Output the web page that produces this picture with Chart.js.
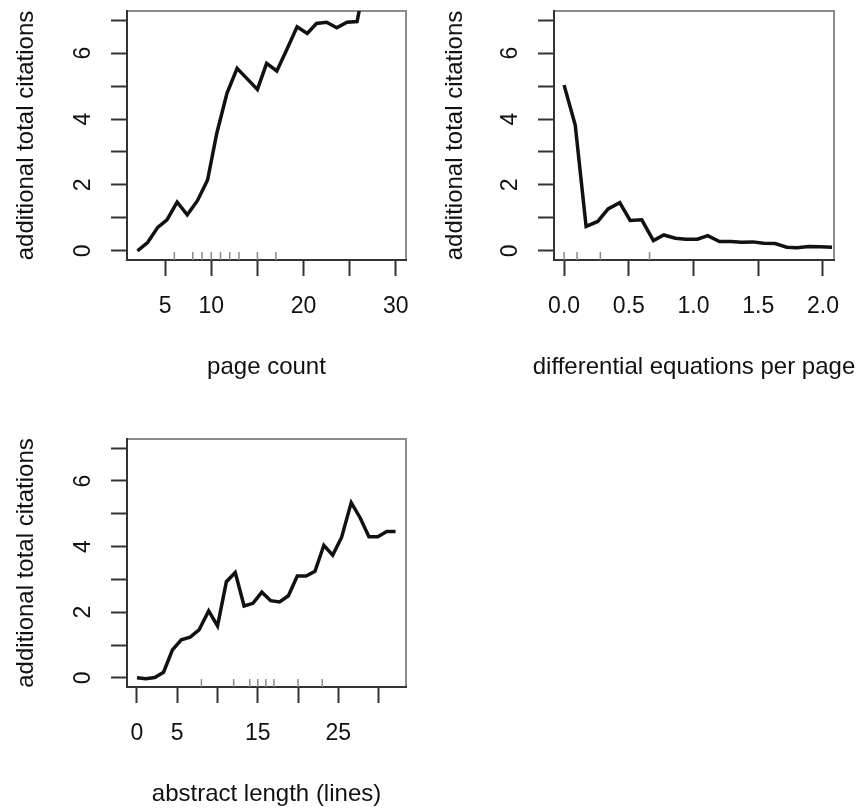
<!DOCTYPE html>
<html>
<head>
<meta charset="utf-8">
<title>additional total citations</title>
<script src="https://cdn.jsdelivr.net/npm/chart.js@4.4.1/dist/chart.umd.min.js"></script>
<style>
  html, body { margin: 0; padding: 0; background: #fff; }
  #wrap { position: relative; width: 861px; height: 809px; overflow: hidden; }
  canvas { position: absolute; }
</style>
</head>
<body>
<div id="wrap">
  <canvas id="PageCountPlot" width="430" height="400" style="left:0;top:0"></canvas>
  <canvas id="EquationsPlot" width="431" height="400" style="left:430px;top:0"></canvas>
  <canvas id="AbstractPlot" width="430" height="409" style="left:0;top:400px"></canvas>
</div>
<script>

//
//
// Shared y axis
var y_title = 'additional total citations';
var y_ticks = [0, 1, 2, 3, 4, 5, 6, 7];
var y_tick_labels = ['0', '', '2', '', '4', '', '6', ''];

//
//
// Page count
var page_count_title = 'page count';
var page_count_x = [2, 3.1, 4.2, 5.2, 6.3, 7.4, 8.5, 9.6, 10.6, 11.7, 12.8, 13.9, 15, 16, 17.1, 18.2, 19.3, 20.4, 21.4, 22.5, 23.6, 24.7, 25.8, 26.8];
var page_count_y = [0, 0.25, 0.71, 0.94, 1.48, 1.09, 1.52, 2.15, 3.57, 4.78, 5.54, 5.22, 4.9, 5.69, 5.46, 6.12, 6.8, 6.6, 6.9, 6.94, 6.77, 6.94, 6.96, 8.4];
var page_count_rug = [6, 8, 9, 10, 11, 12, 13, 15, 17];
var page_count_ticks = [5, 10, 15, 20, 25, 30];
var page_count_tick_labels = ['5', '10', '', '20', '', '30'];

//
//
// Differential equations per page
var equations_title = 'differential equations per page';
var equations_x = [0, 0.086, 0.17, 0.26, 0.34, 0.43, 0.51, 0.6, 0.69, 0.77, 0.86, 0.94, 1.03, 1.11, 1.2, 1.29, 1.37, 1.46, 1.54, 1.63, 1.72, 1.8, 1.89, 1.98, 2.07];
var equations_y = [5.03, 3.82, 0.74, 0.89, 1.27, 1.46, 0.92, 0.94, 0.31, 0.48, 0.38, 0.35, 0.35, 0.46, 0.28, 0.28, 0.26, 0.27, 0.23, 0.22, 0.11, 0.09, 0.13, 0.12, 0.11];
var equations_rug = [0, 0.1, 0.28, 0.66];
var equations_ticks = [0, 0.5, 1, 1.5, 2];
var equations_tick_labels = ['0.0', '0.5', '1.0', '1.5', '2.0'];

//
//
// Abstract length
var abstract_title = 'abstract length (lines)';
var abstract_x = [0, 1.1, 2.2, 3.3, 4.4, 5.5, 6.6, 7.7, 8.9, 10, 11.1, 12.2, 13.3, 14.4, 15.5, 16.6, 17.7, 18.8, 19.9, 21, 22.1, 23.2, 24.3, 25.4, 26.6, 27.7, 28.8, 29.9, 31, 32.1];
var abstract_y = [0, -0.03, 0.01, 0.17, 0.85, 1.16, 1.24, 1.46, 2.04, 1.58, 2.93, 3.21, 2.19, 2.27, 2.61, 2.35, 2.31, 2.5, 3.1, 3.1, 3.25, 4.04, 3.74, 4.28, 5.34, 4.88, 4.3, 4.3, 4.46, 4.46];
var abstract_rug = [8, 12, 14, 15, 16, 17, 20, 23];
var abstract_ticks = [0, 5, 10, 15, 20, 25, 30];
var abstract_tick_labels = ['0', '5', '', '15', '', '25', ''];

var Y_MIN = -0.28;
var Y_MAX = 7.28;
var FONT = "'Liberation Sans', Arial, Helvetica, sans-serif";
var INK = '#111';
var AXIS = '#333';

//
//
// Grey box round the plot region, and the two axis titles
var rFrame = {
  id: 'rFrame',
  beforeDraw: function(chart, args, opts){
    var ctx = chart.ctx;
    var a = chart.chartArea;
    ctx.save();
    ctx.strokeStyle = '#8c8c8c';
    ctx.lineWidth = 2;
    ctx.strokeRect(a.left, a.top, a.right - a.left, a.bottom - a.top);
    ctx.restore();
  },
  afterDraw: function(chart, args, opts){
    var ctx = chart.ctx;
    var a = chart.chartArea;
    ctx.save();
    ctx.font = '24px ' + FONT;
    ctx.fillStyle = INK;
    ctx.textAlign = 'center';
    ctx.textBaseline = 'middle';
    ctx.fillText(opts.xTitle, (a.left + a.right) / 2, a.bottom + 107);
    ctx.translate(opts.yTitleX, (a.top + a.bottom) / 2);
    ctx.rotate(-Math.PI / 2);
    ctx.fillText(opts.yTitle, 0, 0);
    ctx.restore();
  }
};

//
//
// Draw one panel
function drawPanel(canvas_id, p){

  var ctx = document.getElementById(canvas_id).getContext('2d');

  var points = p.x.map(function(v, i){ return {x: v, y: p.y[i]}; });
  var rug = p.rug.map(function(v){ return {x: v, y: Y_MIN}; });

  new Chart(ctx, {
    type: 'line',
    data: {
      datasets: [{
        data: points,
        borderColor: INK,
        borderWidth: 3.5,
        pointRadius: 0,
        tension: 0,
        clip: 0
      }, {
        data: rug,
        showLine: false,
        pointStyle: 'line',
        pointRotation: 90,
        pointRadius: 8,
        pointBorderColor: '#8a8a8a',
        pointBorderWidth: 1.5,
        clip: 0
      }]
    },
    options: {
      responsive: false,
      animation: false,
      events: [],
      layout: {
        padding: { top: p.top, right: p.right, bottom: 0, left: 0 }
      },
      plugins: {
        legend: { display: false },
        tooltip: { enabled: false },
        rFrame: { xTitle: p.title, yTitle: y_title, yTitleX: p.y_title_x }
      },
      scales: {
        x: {
          type: 'linear',
          min: p.xmin,
          max: p.xmax,
          afterBuildTicks: function(s){
            s.ticks = p.ticks.map(function(v){ return {value: v}; });
          },
          afterFit: function(s){
            s.height = p.x_height;
            s.paddingLeft = 0;
            s.paddingRight = 0;
          },
          ticks: {
            autoSkip: false,
            minRotation: 0,
            maxRotation: 0,
            padding: 17,
            color: INK,
            font: { family: FONT, size: 23 },
            callback: function(v, i){ return p.tick_labels[i]; }
          },
          grid: { drawOnChartArea: false, drawTicks: true, tickLength: 16, tickWidth: 2, tickColor: AXIS },
          border: { display: true, color: AXIS, width: 2 }
        },
        y: {
          type: 'linear',
          min: Y_MIN,
          max: Y_MAX,
          afterBuildTicks: function(s){
            s.ticks = y_ticks.map(function(v){ return {value: v}; });
          },
          afterFit: function(s){
            s.width = p.y_width;
            s.paddingTop = 0;
            s.paddingBottom = 0;
          },
          ticks: {
            autoSkip: false,
            minRotation: 90,
            maxRotation: 90,
            crossAlign: 'center',
            padding: 21,
            color: INK,
            font: { family: FONT, size: 23 },
            callback: function(v, i){ return y_tick_labels[i]; }
          },
          grid: { drawOnChartArea: false, drawTicks: true, tickLength: 16, tickWidth: 2, tickColor: AXIS },
          border: { display: true, color: AXIS, width: 2 }
        }
      }
    },
    plugins: [rFrame]
  });
}

//
//
// The three panels
drawPanel('PageCountPlot', {
  x: page_count_x, y: page_count_y, rug: page_count_rug,
  ticks: page_count_ticks, tick_labels: page_count_tick_labels, title: page_count_title,
  xmin: 0.87, xmax: 31.1,
  top: 11, right: 24, x_height: 140, y_width: 127, y_title_x: 26
});

drawPanel('EquationsPlot', {
  x: equations_x, y: equations_y, rug: equations_rug,
  ticks: equations_ticks, tick_labels: equations_tick_labels, title: equations_title,
  xmin: -0.078, xmax: 2.085,
  top: 11, right: 27, x_height: 140, y_width: 124, y_title_x: 25
});

drawPanel('AbstractPlot', {
  x: abstract_x, y: abstract_y, rug: abstract_rug,
  ticks: abstract_ticks, tick_labels: abstract_tick_labels, title: abstract_title,
  xmin: -1.24, xmax: 33.4,
  top: 39, right: 24, x_height: 122, y_width: 127, y_title_x: 26
});

</script>
</body>
</html>
